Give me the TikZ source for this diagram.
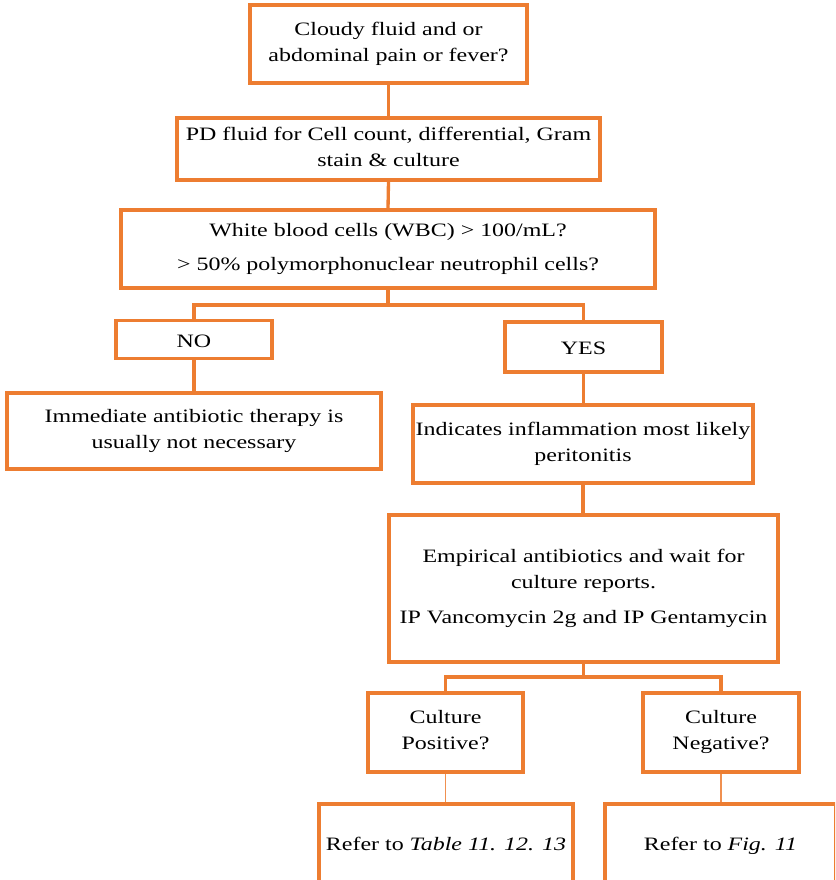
\documentclass[tikz,border=0pt]{standalone}
\usepackage{fontspec}
\setmainfont{Liberation Serif}[FakeStretch=1.265]
\definecolor{flowline}{HTML}{ED7D31}

\begin{document}
\begin{tikzpicture}[x=0.75pt,y=-0.75pt,
		box/.style 2 args={draw=flowline, line width=2.5pt, fill=white, align=center, inner sep=0pt,
			minimum width=#1*0.75pt, minimum height=#2*0.75pt, font=\fontsize{14.2}{19.5}\selectfont,
			execute at begin node={\rule{0pt}{14.75pt}}, execute at end node={\rule[-3.5pt]{0pt}{3.5pt}}},
		link/.style={draw=flowline, line width=2.5pt},
		thinlink/.style={draw=flowline!85, line width=0.8pt}]
		\useasboundingbox (0,0) rectangle (835,880);
		\clip (0,0) rectangle (835,880);

		\node[box={277}{78}] (cloudy) at (388.5,44) {Cloudy fluid and or\\abdominal pain or fever?};
		\node[box={423}{62}] (pdfluid) at (388.5,149) {PD fluid for Cell count, differential, Gram\\stain \& culture};
		\node[box={534}{78}] (wbc) at (388,249) {White blood cells (WBC) > 100/mL?\\[6.3pt]> 50\% polymorphonuclear neutrophil cells?};
		\node[box={156}{38}] (no) at (194,339.5) {NO};
		\node[box={157}{50}] (yes) at (583.5,347) {YES};
		\node[box={374}{76}] (immediate) at (194,431) {Immediate antibiotic therapy is\\usually not necessary};
		\node[box={340}{78}] (inflam) at (583,444) {Indicates inflammation most likely\\peritonitis};
		\node[box={389}{147}] (empirical) at (583.5,588.5) {Empirical antibiotics and wait for\\culture reports.\\[6.3pt]IP Vancomycin 2g and IP Gentamycin};
		\node[box={155}{79}] (positive) at (445.5,732.5) {Culture\\Positive?};
		\node[box={156}{79}] (negative) at (721,732.5) {Culture\\Negative?};
		\node[box={254}{78}] (table) at (446,843) {Refer to \textit{Table 11. 12. 13}};
		\node[box={231}{78}] (fig) at (720.5,843) {Refer to \textit{Fig. 11}};

		\coordinate (wbcsplit) at (388,305);
		\coordinate (empsplit) at (583.5,677);

		\draw[link] (cloudy.south) -- (pdfluid.north);
		\draw[link] (pdfluid.south) -- (wbc.north);
		\draw[link] (wbc.south) -- (wbcsplit);
		\draw[link] (no.north) |- (wbcsplit) -| (yes.north);
		\draw[link] (no.south) -- (immediate.north);
		\draw[link] (yes.south) -- (inflam.north -| yes.south);
		\draw[link] (inflam.south) -- (empirical.north -| inflam.south);
		\draw[link] (empirical.south) -- (empsplit);
		\draw[link] (positive.north) |- (empsplit) -| (negative.north);
		\draw[thinlink] (positive.south) -- (table.north -| positive.south);
		\draw[thinlink] (negative.south) -- (fig.north -| negative.south);
	\end{tikzpicture}
\end{document}
